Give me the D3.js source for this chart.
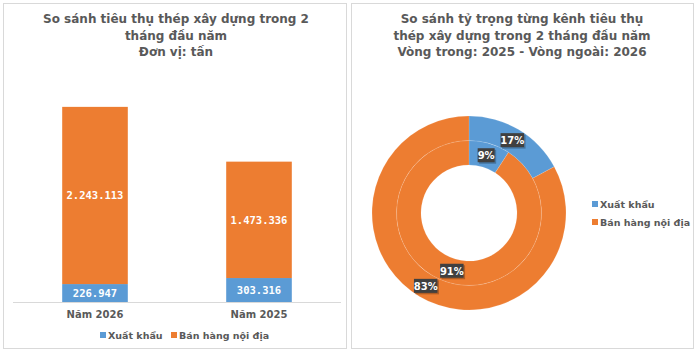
<!DOCTYPE html>
<html>
<head>
<meta charset="utf-8">
<script src="https://cdn.jsdelivr.net/npm/d3@7"></script>
<style>
  body { margin: 0; background: #fff; }
  svg { display: block; font-family: "DejaVu Sans", Verdana, sans-serif; }
</style>
</head>
<body>
<svg id="chart" width="700" height="354"></svg>
<script>
// data
var years = ["Năm 2026", "Năm 2025"];
var seriesNames = ["Xuất khẩu", "Bán hàng nội địa"];
var exportVals = [226947, 303316];
var domesticVals = [2243113, 1473336];
var colours = ["#5B9BD5", "#ED7D31"];

var svg = d3.select("#chart");
var grey = "#595959";

// panel frames
svg.append("rect").attr("x", 3.5).attr("y", 3.5).attr("width", 343).attr("height", 345)
  .attr("fill", "#fff").attr("stroke", "#d9d9d9");
svg.append("rect").attr("x", 351.5).attr("y", 3.5).attr("width", 342).attr("height", 345)
  .attr("fill", "#fff").attr("stroke", "#d9d9d9");

function title(lines, cx) {
  var t = svg.append("text").attr("text-anchor", "middle").attr("fill", grey)
    .attr("font-weight", "bold").attr("font-size", 12);
  lines.forEach(function(l, i) {
    t.append("tspan").attr("x", cx).attr("y", 23 + i * 16.5).text(l);
  });
}
title(["So sánh tiêu thụ thép xây dựng trong 2", "tháng đầu năm", "Đơn vị: tấn"], 176);
title(["So sánh tỷ trọng từng kênh tiêu thụ", "thép xây dựng trong 2 tháng đầu năm", "Vòng trong: 2025 - Vòng ngoài: 2026"], 522);

// ---- stacked bars ----
var x = d3.scaleBand().domain(years).range([13, 341]).paddingInner(0.6).paddingOuter(0.3);
var y = d3.scaleLinear().domain([0, 3000000]).range([302, 65]);

var rows = years.map(function(yr, i) {
  return { year: yr, exp: exportVals[i], dom: domesticVals[i] };
});
var stack = d3.stack().keys(["exp", "dom"])(rows);

svg.append("line").attr("x1", 13).attr("x2", 341).attr("y1", 302.5).attr("y2", 302.5)
  .attr("stroke", "#d9d9d9");

var layers = svg.selectAll(".layer").data(stack).enter().append("g")
  .attr("fill", function(d, i) { return colours[i]; });

layers.selectAll("rect").data(function(d) { return d; }).enter().append("rect")
  .attr("x", function(d) { return x(d.data.year); })
  .attr("width", x.bandwidth())
  .attr("y", function(d) { return y(d[1]); })
  .attr("height", function(d) { return y(d[0]) - y(d[1]); });

var fmt = function(v) { return d3.format(",")(v).replace(/,/g, "."); };
layers.selectAll("text").data(function(d) { return d; }).enter().append("text")
  .attr("x", function(d) { return x(d.data.year) + x.bandwidth() / 2; })
  .attr("y", function(d) { return (y(d[0]) + y(d[1])) / 2 + 4; })
  .attr("text-anchor", "middle").attr("fill", "#fff")
  .attr("font-family", "'DejaVu Sans Mono', monospace").attr("font-weight", "bold")
  .attr("font-size", 10.5)
  .text(function(d) { return fmt(d[1] - d[0]); });

var xAxis = svg.append("g").attr("transform", "translate(0,302)")
  .call(d3.axisBottom(x).tickSize(0).tickPadding(9));
xAxis.select(".domain").remove();
xAxis.selectAll("text").attr("fill", grey).attr("font-weight", "bold")
  .attr("font-size", 10).attr("font-family", "'DejaVu Sans', sans-serif");

// legend left
var legL = svg.append("g").attr("transform", "translate(100,335)");
var legX = [0, 71];
seriesNames.forEach(function(n, i) {
  var g = legL.append("g").attr("transform", "translate(" + legX[i] + ",0)");
  g.append("rect").attr("x", 0).attr("y", -3).attr("width", 6).attr("height", 6).attr("fill", colours[i]);
  g.append("text").attr("x", 8).attr("y", 3.5).attr("fill", grey).attr("font-weight", "bold")
    .attr("font-size", 9.5).text(n);
});

// ---- donut ----
var cx = 469, cy = 213;
var pie = d3.pie().sort(null);
var rings = [
  { vals: [exportVals[0], domesticVals[0]], r0: 48, r1: 72.5 },
  { vals: [exportVals[1], domesticVals[1]], r0: 72.5, r1: 97 }
];
var dg = svg.append("g").attr("transform", "translate(" + cx + "," + cy + ")");
rings.forEach(function(ring) {
  var arc = d3.arc().innerRadius(ring.r0).outerRadius(ring.r1);
  var arcs = pie(ring.vals);
  dg.append("g").selectAll("path").data(arcs).enter().append("path")
    .attr("d", arc).attr("fill", function(d, i) { return colours[i]; })
    .attr("stroke", "#fff").attr("stroke-opacity", 0.18).attr("stroke-width", 0.7);
});
// labels on top of both rings
rings.forEach(function(ring) {
  var arc = d3.arc().innerRadius(ring.r0).outerRadius(ring.r1);
  var total = d3.sum(ring.vals);
  pie(ring.vals).forEach(function(a) {
    var c = arc.centroid(a);
    var lbl = Math.round(a.value / total * 100) + "%";
    var w = lbl.length * 6.5 + 4;
    var g = dg.append("g").attr("transform", "translate(" + c[0] + "," + c[1] + ")");
    g.append("rect").attr("x", -w / 2 + 1.5).attr("y", -5.5).attr("width", w).attr("height", 14)
      .attr("fill", "#000").attr("opacity", 0.25);
    g.append("rect").attr("x", -w / 2).attr("y", -7).attr("width", w).attr("height", 14)
      .attr("fill", "#404040");
    g.append("text").attr("text-anchor", "middle").attr("y", 4).attr("fill", "#fff")
      .attr("font-weight", "bold").attr("font-size", 10).text(lbl);
  });
});

// legend right
var legR = svg.append("g").attr("transform", "translate(592,204)");
seriesNames.forEach(function(n, i) {
  var g = legR.append("g").attr("transform", "translate(0," + i * 18 + ")");
  g.append("rect").attr("x", 0).attr("y", -3).attr("width", 6).attr("height", 6).attr("fill", colours[i]);
  g.append("text").attr("x", 8).attr("y", 3.5).attr("fill", grey).attr("font-weight", "bold")
    .attr("font-size", 9.5).text(n);
});
</script>
</body>
</html>
